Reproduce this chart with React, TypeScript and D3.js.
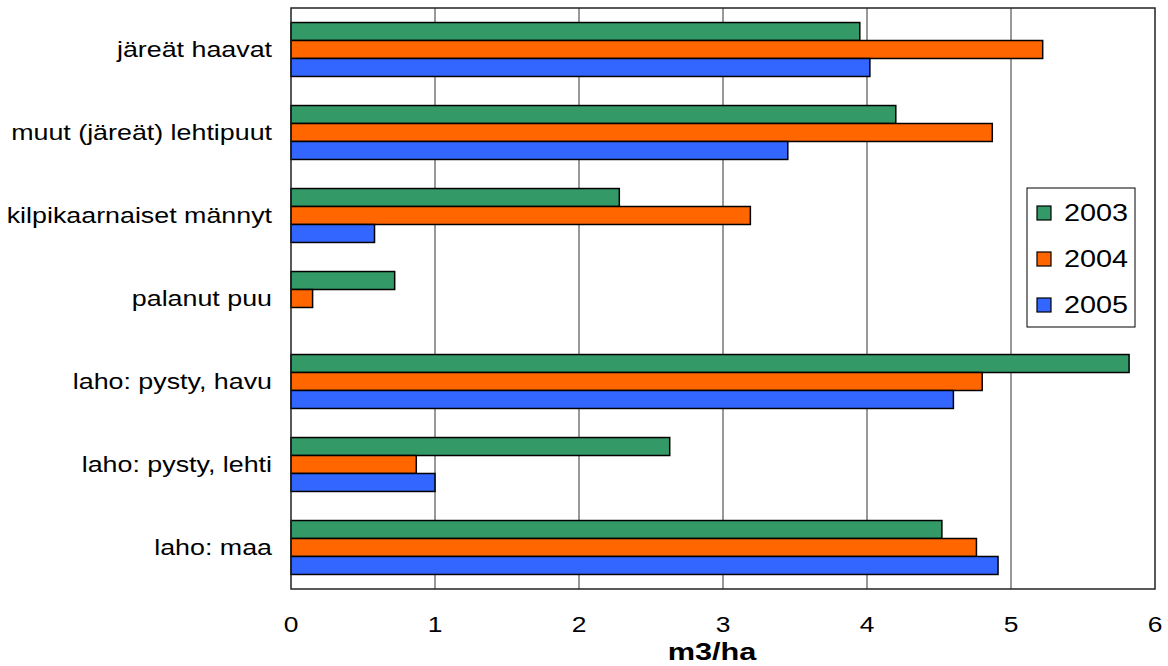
import React from "react";
import * as d3 from "d3";

const categories = [
  "järeät haavat",
  "muut (järeät) lehtipuut",
  "kilpikaarnaiset männyt",
  "palanut puu",
  "laho: pysty, havu",
  "laho: pysty, lehti",
  "laho: maa",
];
const seriesNames = ["2003", "2004", "2005"];
const values2003 = [3.95, 4.2, 2.28, 0.72, 5.82, 2.63, 4.52];
const values2004 = [5.22, 4.87, 3.19, 0.15, 4.8, 0.87, 4.76];
const values2005 = [4.02, 3.45, 0.58, 0, 4.6, 1.0, 4.91];
const xTicks = [0, 1, 2, 3, 4, 5, 6];
const colors = ["#339966", "#FF6600", "#3366FF"];

export default function App() {
  const W = 1168, H = 666;
  const left = 291, right = 1155, top = 8, bottom = 589;
  const x = d3.scaleLinear().domain([0, 6]).range([left, right]);
  const y = d3.scaleBand().domain(categories).range([top, bottom]).paddingInner(0.35).paddingOuter(0.175);
  const sub = d3.scaleBand().domain(seriesNames).range([0, y.bandwidth()]);
  const data = [values2003, values2004, values2005];
  const font = "Liberation Sans, Arial, sans-serif";
  return (
    <svg width={W} height={H} style={{ position: "absolute", left: 0, top: 0 }} fontFamily={font}>
      <rect x={0} y={0} width={W} height={H} fill="#fff" />
      {xTicks.slice(1, -1).map((t) => (
        <line key={t} x1={x(t)} x2={x(t)} y1={top} y2={bottom} stroke="#333" strokeWidth={1} />
      ))}
      {categories.map((c, i) =>
        seriesNames.map((s, j) => {
          const v = data[j][i];
          if (v <= 0) return null;
          return (
            <rect key={c + s} x={x(0)} y={(y(c) as number) + (sub(s) as number)} width={x(v) - x(0)}
              height={sub.bandwidth()} fill={colors[j]} stroke="#000" strokeWidth={1.5} />
          );
        })
      )}
      <rect x={left} y={top} width={right - left} height={bottom - top} fill="none" stroke="#222" strokeWidth={1.5} />
      {categories.map((c) => (
        <text key={c} transform={`translate(272, ${(y(c) as number) + y.bandwidth() / 2}) scale(1.22, 1)`}
          textAnchor="end" dominantBaseline="central" fontSize={22}>{c}</text>
      ))}
      {xTicks.map((t) => (
        <text key={t} transform={`translate(${x(t)}, 624) scale(1.2, 1)`} textAnchor="middle" dominantBaseline="central" fontSize={22}>{t}</text>
      ))}
      <text transform="translate(712, 652) scale(1.28, 1)" textAnchor="middle" dominantBaseline="central" fontSize={24} fontWeight="bold">m3/ha</text>
      <rect x={1027} y={188} width={108} height={139} fill="#fff" stroke="#000" strokeWidth={1} />
      {seriesNames.map((s, j) => (
        <g key={s} transform={`translate(1037, ${213 + j * 46})`}>
          <rect x={0} y={-7} width={14} height={14} fill={colors[j]} stroke="#000" strokeWidth={1.2} />
          <text transform="translate(27, 0) scale(1.2, 1)" dominantBaseline="central" fontSize={24}>{s}</text>
        </g>
      ))}
    </svg>
  );
}
